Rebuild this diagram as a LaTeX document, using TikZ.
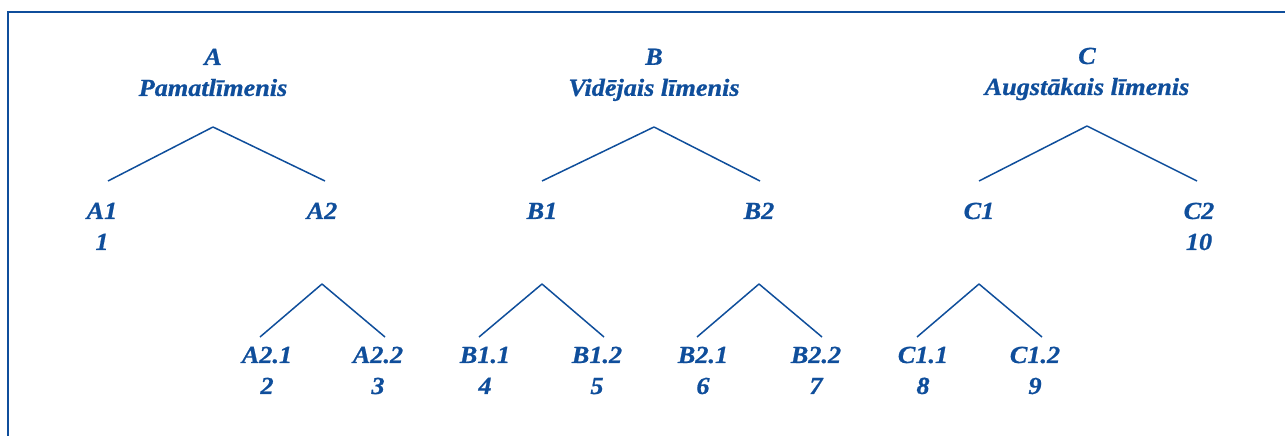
\documentclass[tikz,border=0pt]{standalone}
\usepackage{fontspec}
\setmainfont{Liberation Serif}[FakeStretch=1.07,BoldItalicFeatures={FakeBold=0.8}]
\usepackage{tikz}
\usetikzlibrary{positioning}
\usetikzlibrary{calc}
\definecolor{lvblue}{RGB}{15,78,155}
\tikzset{every picture/.style={x=1pt,y=-1pt,line width=1.5pt,draw=lvblue},
lvl/.style={anchor=north,inner sep=0pt,align=center,text=lvblue,font=\bfseries\itshape\fontsize{24.5}{31}\selectfont}}

\begin{document}
\begin{tikzpicture}
\useasboundingbox (0,0) rectangle (1285,436);
\draw (8,436) -- (8,12) -- (1285,12);
% levels
\node (A) at (213,48) [lvl] {A\\Pamatlīmenis};
\node (B) at (654,48) [lvl] {B\\Vidējais līmenis};
\node (C) at (1087,47) [lvl] {C\\Augstākais līmenis};
% second row
\node (A1) at (102,202) [lvl] {A1\\1};
\node (A2) at (322,202) [lvl] {A2};
\node (B1) at (542,202) [lvl] {B1};
\node (B2) at (759,202) [lvl] {B2};
\node (C1) at (979,202) [lvl] {C1};
\node (C2) at (1199,202) [lvl] {C2\\10};
% third row
\node (A21) at (267,346) [lvl] {A2.1\\2};
\node (A22) at (378,346) [lvl] {A2.2\\3};
\node (B11) at (485,346) [lvl] {B1.1\\4};
\node (B12) at (597,346) [lvl] {B1.2\\5};
\node (B21) at (703,346) [lvl] {B2.1\\6};
\node (B22) at (816,346) [lvl] {B2.2\\7};
\node (C11) at (923,346) [lvl] {C1.1\\8};
\node (C12) at (1035,346) [lvl] {C1.2\\9};
\foreach \p/\c/\dx in {A/A1/6,A/A2/3,B/B1/0,B/B2/1,C/C1/0,C/C2/-2}
\draw ([yshift=-79]\p.north) -- ([xshift=\dx,yshift=21]\c.north);
\foreach \p/\c/\dx in {A2/A21/-7,A2/A22/7,B1/B11/-6,B1/B12/7,B2/B21/-6,B2/B22/6,C1/C11/-6,C1/C12/7}
\draw ([yshift=-82]\p.north) -- ([xshift=\dx,yshift=9]\c.north);
\end{tikzpicture}
\end{document}
